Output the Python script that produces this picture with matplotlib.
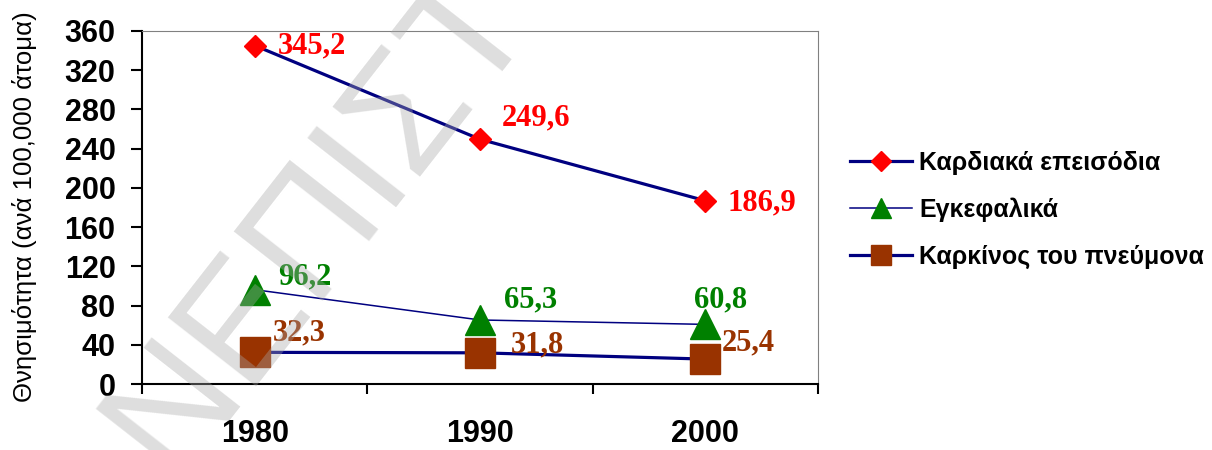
import matplotlib
matplotlib.use("Agg")
import matplotlib.pyplot as plt
from matplotlib.lines import Line2D
import numpy as np

# Θνησιμότητα ανά 100.000 άτομα
eti = ["1980", "1990", "2000"]
kardiaka = [345.2, 249.6, 186.9]
egkefalika = [96.2, 65.3, 60.8]
karkinos = [32.3, 31.8, 25.4]

onomata = ["Καρδιακά επεισόδια", "Εγκεφαλικά", "Καρκίνος του πνεύμονα"]
yticks = np.arange(0, 361, 40)

SANS = "Liberation Sans"
SERIF = "Liberation Serif"
NAVY = "#000080"

fig = plt.figure(figsize=(12.12, 4.5), dpi=100)
ax = fig.add_axes([142 / 1212, 1 - 384 / 450, 676 / 1212, 353 / 450])

x = np.arange(len(eti)) + 0.5

# σειρές: (τιμές, χρώμα σημείου, σύμβολο, μέγεθος, πάχος γραμμής)
seires = [
    (kardiaka, "#FF0000", "D", 11.7, 2.3),
    (egkefalika, "#008000", "^", 21, 1.1),
    (karkinos, "#993300", "s", 21, 2.3),
]
for vals, col, mk, ms, lw in seires:
    ax.plot(x, vals, color=NAVY, lw=lw, marker=mk, ms=ms,
            mfc=col, mec=col, zorder=3, clip_on=False)

# ετικέτες τιμών (μετατόπιση σε pixels)
offsets = [
    [(23, 0), (22, 21), (22, -2)],
    [(23, 13), (24, 20), (-11, 24)],
    [(18, 19), (31, 8), (16, 16)],
]
for (vals, col, mk, ms, lw), offs in zip(seires, offsets):
    for xi, v, (dx, dy) in zip(x, vals, offs):
        ax.annotate(f"{v:.1f}".replace(".", ","), (xi, v),
                    xytext=(dx * 0.72, dy * 0.72), textcoords="offset points",
                    ha="left", va="center", color=col, fontsize=22,
                    fontweight="bold", family=SERIF, zorder=4)

ax.set_xlim(0, 3)
ax.set_ylim(0, 360)
ax.set_yticks(yticks)
ax.set_yticklabels([str(t) for t in yticks])
ax.set_xticks([0, 1, 2, 3])
ax.set_xticklabels([])
ax.set_xticks(x, minor=True)
ax.set_xticklabels(eti, minor=True)

ax.tick_params(axis="y", direction="out", length=8, width=1.5, pad=11,
               labelsize=22)
ax.tick_params(axis="x", which="major", direction="out", length=7, width=1.5)
ax.tick_params(axis="x", which="minor", length=0, pad=25, labelsize=22)
for lab in ax.get_yticklabels() + ax.get_xticklabels(minor=True):
    lab.set_fontweight("bold")
    lab.set_family(SANS)

for s in ["left", "bottom"]:
    ax.spines[s].set_linewidth(1.5)
    ax.spines[s].set_color("black")
for s in ["top", "right"]:
    ax.spines[s].set_linewidth(0.8)
    ax.spines[s].set_color("#808080")

fig.text(25 / 1212, 1 - 207 / 450, "Θνησιμότητα (ανά 100,000 άτομα)",
         rotation=90, ha="center", va="center", fontsize=18.5, family=SANS)

# υπόμνημα
handles = [
    Line2D([], [], color=NAVY, lw=2.3, marker="D", ms=10, mfc="#FF0000", mec="#FF0000"),
    Line2D([], [], color=NAVY, lw=1.1, marker="^", ms=14.5, mfc="#008000", mec="#008000"),
    Line2D([], [], color=NAVY, lw=2.3, marker="s", ms=15, mfc="#993300", mec="#993300"),
]
leg = fig.legend(handles, onomata, loc="center left",
                 bbox_to_anchor=(850 / 1212, 1 - 210 / 450),
                 frameon=False, borderpad=0, borderaxespad=0,
                 handlelength=2.48, handletextpad=0.28, labelspacing=0.92,
                 prop={"family": SANS, "weight": "bold", "size": 18})

# υδατογράφημα
fig.text(320 / 1212, 1 - 220 / 450, "ΝΕΠΙΣΤ", rotation=52,
         rotation_mode="anchor", ha="center", va="center",
         fontsize=117, family=SANS, color="#a8a8a8", alpha=0.38, zorder=10)

fig.savefig("out.png", dpi=100)
